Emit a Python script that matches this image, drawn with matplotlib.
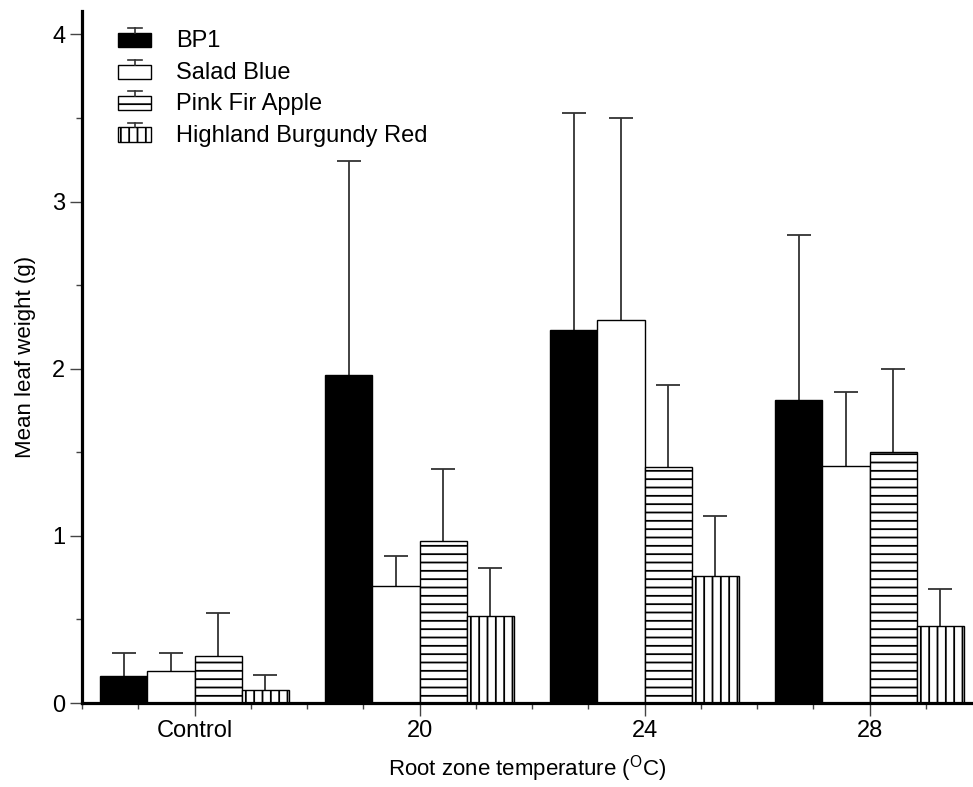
import numpy as np
import matplotlib.pyplot as plt
from matplotlib.patches import Rectangle
from matplotlib.lines import Line2D
from matplotlib.legend_handler import HandlerBase
from matplotlib.ticker import FixedLocator, MultipleLocator

plt.rcParams['font.family'] = ['Liberation Sans', 'DejaVu Sans']
plt.rcParams['mathtext.fontset'] = 'custom'
plt.rcParams['mathtext.rm'] = 'Liberation Sans'
plt.rcParams['hatch.linewidth'] = 1.3

# datos
groups = ['Control', '20', '24', '28']
cultivars = ['BP1', 'Salad Blue', 'Pink Fir Apple', 'Highland Burgundy Red']
bp1 = [0.16, 1.96, 2.23, 1.81]
bp1_top = [0.30, 3.24, 3.53, 2.80]
salad = [0.19, 0.70, 2.29, 1.42]
salad_top = [0.30, 0.88, 3.50, 1.86]
pink = [0.28, 0.97, 1.41, 1.50]
pink_top = [0.54, 1.40, 1.90, 2.00]
highland = [0.08, 0.52, 0.76, 0.46]
highland_top = [0.17, 0.81, 1.12, 0.68]

means = [bp1, salad, pink, highland]
tops = [bp1_top, salad_top, pink_top, highland_top]
colors = ['black', 'white', 'white', 'white']
hatches = [None, None, '--', '||']

fig = plt.figure(figsize=(9.73, 7.87), dpi=100)
ax = fig.add_axes([0.0843, 0.1067, 0.9157, 0.8793])

x = np.arange(len(groups))
w = 0.209
for i in range(4):
    m = np.array(means[i])
    t = np.array(tops[i])
    pos = x + (i - 1.5) * w
    ax.bar(pos, m, width=w, color=colors[i], edgecolor='black', linewidth=1.0,
           hatch=hatches[i], zorder=2)
    # solo la barra de error superior
    ax.errorbar(pos, m, yerr=[np.zeros_like(t), t - m], fmt='none',
                ecolor='#333333', elinewidth=1.3, capsize=0, zorder=1)
    ax.plot(pos, t, ls='none', marker='_', ms=16.6, mew=1.3, color='#333333', zorder=1)


class BarErrHandler(HandlerBase):
    def __init__(self, fc, hatch):
        super().__init__()
        self.fc = fc
        self.hatch = hatch

    def create_artists(self, legend, orig_handle, xdescent, ydescent, width,
                       height, fontsize, trans):
        h = height * 0.85
        rect = Rectangle((-xdescent, -ydescent), width, h, facecolor=self.fc,
                         edgecolor='black', hatch=self.hatch, lw=1.0, transform=trans)
        cx = -xdescent + width / 2
        top = -ydescent + height * 1.15
        stem = Line2D([cx, cx], [-ydescent + h, top], color='#333333', lw=1.2, transform=trans)
        cap = Line2D([cx - width * 0.2, cx + width * 0.2], [top, top], color='#333333',
                     lw=1.2, transform=trans)
        return [rect, stem, cap]


handles = [Rectangle((0, 0), 1, 1) for _ in cultivars]
hmap = {h: BarErrHandler(colors[i], hatches[i]) for i, h in enumerate(handles)}
ax.legend(handles, cultivars, handler_map=hmap, loc='upper left', frameon=False,
          fontsize=17, handlelength=1.4, handleheight=0.7, handletextpad=1.05,
          labelspacing=0.4, bbox_to_anchor=(0.017, 1.003))

ax.set_xlim(-0.5, 3.46)
ax.set_ylim(0, 4.14)
ax.set_xticks(x)
ax.set_xticklabels(groups)
minors = [v for v in np.arange(-0.5, 3.3, 0.25) if abs(v - round(v)) > 1e-6]
ax.xaxis.set_minor_locator(FixedLocator(minors))
ax.set_yticks([0, 1, 2, 3, 4])
ax.yaxis.set_minor_locator(MultipleLocator(0.5))

for s in ['top', 'right']:
    ax.spines[s].set_visible(False)
for s in ['left', 'bottom']:
    ax.spines[s].set_linewidth(2.3)
ax.tick_params(which='major', direction='out', length=9, width=1.0, color='#444444',
               labelsize=17, pad=3)
ax.tick_params(which='minor', direction='out', length=4.5, width=1.0, color='#444444')

ax.set_xlabel(r'Root zone temperature ($^{\mathrm{O}}$C)', fontsize=16, labelpad=8)
ax.set_ylabel('Mean leaf weight (g)', fontsize=16, labelpad=12)

fig.savefig('out.png', dpi=100)
